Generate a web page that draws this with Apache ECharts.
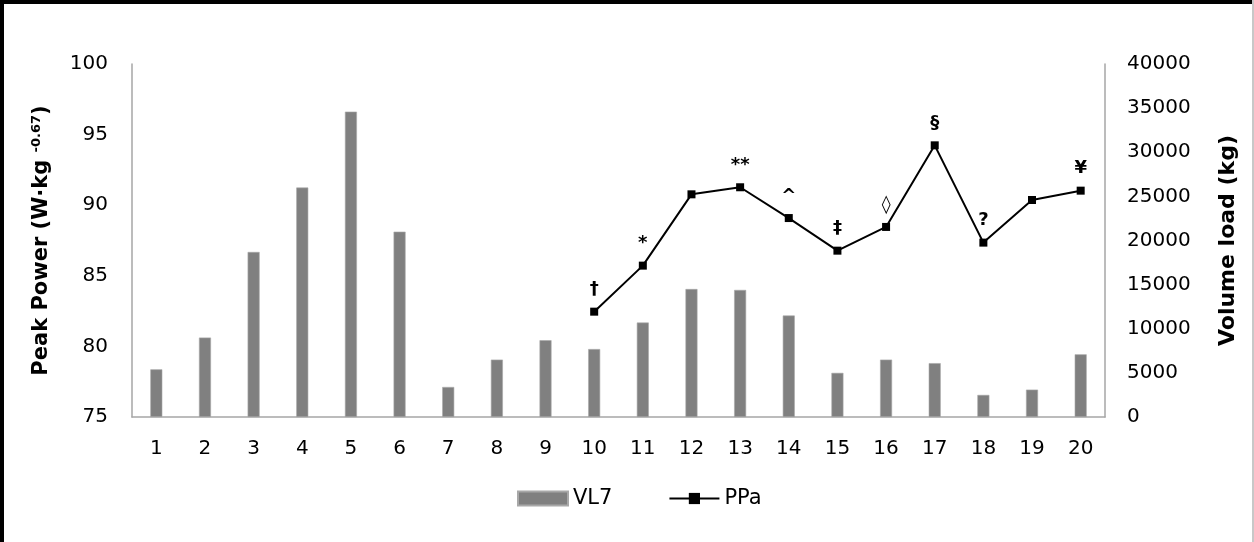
<!DOCTYPE html>
<html><head><meta charset="utf-8">
<script src="https://cdn.jsdelivr.net/npm/echarts@6/dist/echarts.min.js"></script>
<style>html,body{margin:0;padding:0;background:#fff}#c{width:1254px;height:542px}</style>
</head><body><div id="c"></div>
<script>
const categories = ['1','2','3','4','5','6','7','8','9','10','11','12','13','14','15','16','17','18','19','20'];
const vl7 = [5400, 9000, 18700, 26000, 34600, 21000, 3400, 6500, 8700, 7700, 10700, 14500, 14400, 11500, 5000, 6500, 6100, 2500, 3100, 7100];
const ppa = [null, null, null, null, null, null, null, null, null, 82.46, 85.72, 90.77, 91.27, 89.09, 86.78, 88.46, 94.24, 87.35, 90.37, 91.03];
const marks = ['', '', '', '', '', '', '', '', '', '†', '*', '', '**', '^', '‡', '◊', '§', '?', '', '¥'];

const chart = echarts.init(document.getElementById('c'));
const font = 'DejaVu Sans, Verdana, sans-serif';
chart.setOption({
  animation: false,
  textStyle: {fontFamily: font},
  graphic: [
    {type: 'rect', shape: {x: 0, y: 0, width: 4, height: 542}, style: {fill: '#000'}},
    {type: 'rect', shape: {x: 0, y: 0, width: 1254, height: 4}, style: {fill: '#000'}},
    {type: 'rect', shape: {x: 1252, y: 0, width: 2, height: 542}, style: {fill: '#c8c8c8'}}
  ],
  grid: {left: 132, right: 149, top: 64, bottom: 125},
  legend: {
    left: 512, top: 483, itemWidth: 50, itemHeight: 14, itemGap: 56,
    textStyle: {fontSize: 21, color: '#000', fontFamily: font},
    data: [{name: 'VL7', icon: 'rect'}, {name: 'PPa'}]
  },
  xAxis: {
    type: 'category', data: categories,
    axisLine: {lineStyle: {color: '#a6a6a6', width: 1.5}},
    axisTick: {show: false},
    axisLabel: {fontSize: 20, color: '#000', margin: 22, fontFamily: font}
  },
  yAxis: [
    {
      type: 'value', min: 75, max: 100, interval: 5, position: 'left',
      name: 'Peak Power (W·kg {s|-0.67})', nameLocation: 'middle', nameGap: 79, nameRotate: 90,
      nameTextStyle: {fontSize: 21, fontWeight: 'bold', color: '#000', fontFamily: font,
        rich: {s: {fontSize: 13, fontWeight: 'bold', fontFamily: font, color: '#000', verticalAlign: 'top', padding: [0,0,10,0]}}},
      axisLine: {show: true, lineStyle: {color: '#a6a6a6', width: 1.5}},
      axisTick: {show: false}, splitLine: {show: false},
      axisLabel: {fontSize: 20, color: '#000', margin: 24, fontFamily: font}
    },
    {
      type: 'value', min: 0, max: 40000, interval: 5000, position: 'right',
      name: 'Volume load (kg)', nameLocation: 'middle', nameGap: 112, nameRotate: 90,
      nameTextStyle: {fontSize: 22, fontWeight: 'bold', color: '#000', fontFamily: font},
      axisLine: {show: true, lineStyle: {color: '#a6a6a6', width: 1.5}},
      axisTick: {show: false}, splitLine: {show: false},
      axisLabel: {fontSize: 20, color: '#000', margin: 22, fontFamily: font, formatter: v => String(v)}
    }
  ],
  series: [
    {
      name: 'VL7', type: 'bar', yAxisIndex: 1, data: vl7, barWidth: 12,
      itemStyle: {color: '#808080', borderColor: '#a8a8a8', borderWidth: 0.6}
    },
    {
      name: 'PPa', type: 'line', yAxisIndex: 0, data: ppa,
      symbol: 'rect', symbolSize: 8, connectNulls: false,
      lineStyle: {color: '#000', width: 2}, itemStyle: {color: '#000'},
      label: {
        show: true, position: 'top', distance: 9, fontSize: 18, fontWeight: 'bold', color: '#000', fontFamily: font,
        formatter: p => marks[p.dataIndex]
      }
    }
  ]
});
</script></body></html>
